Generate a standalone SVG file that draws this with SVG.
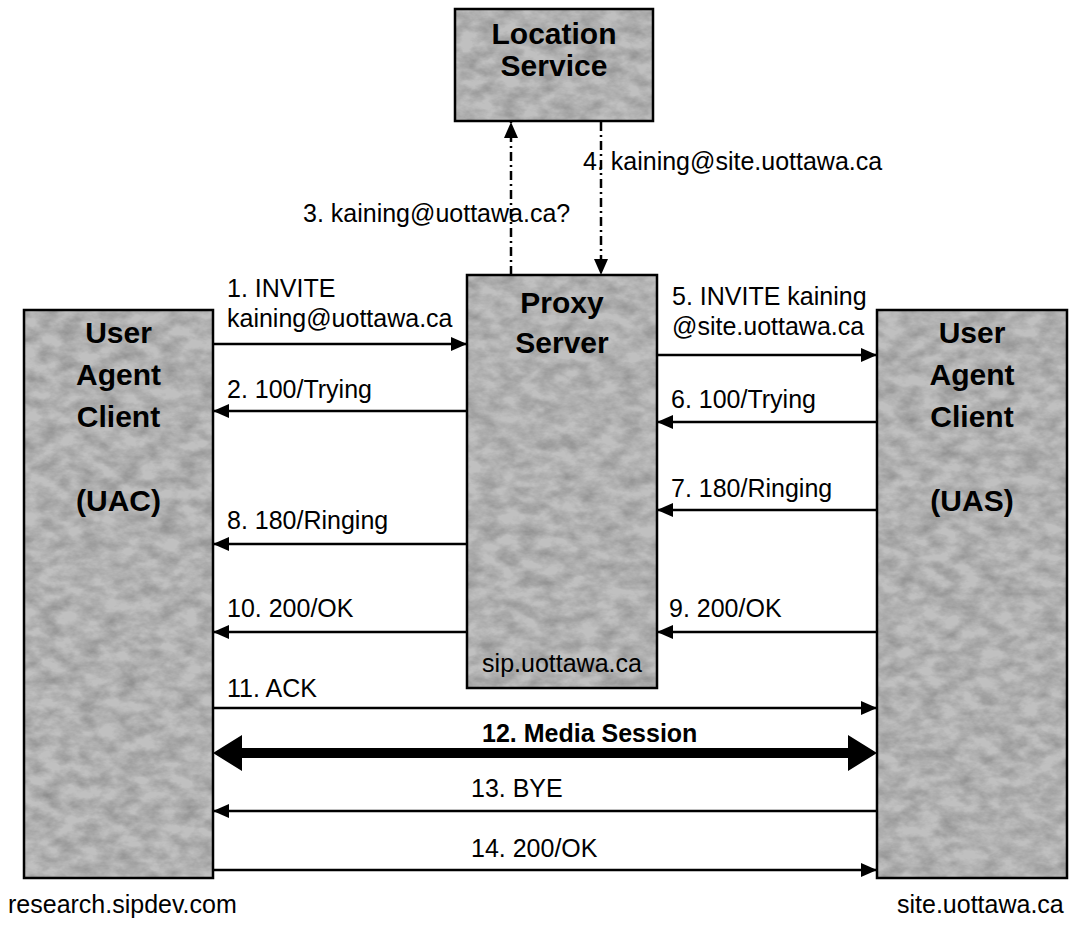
<svg xmlns="http://www.w3.org/2000/svg" width="1070" height="926" viewBox="0 0 1070 926">
  <style>
    .box { fill: #c0c0c0; stroke: none; }
    .grain { fill: #000; filter: url(#grain); }
    .frame { fill: none; stroke: #000; stroke-width: 2.5; }
    .title { font-family: "Liberation Sans", Arial, sans-serif; font-weight: bold; font-size: 30px; fill: #000; text-anchor: middle; }
    .lbl { font-family: "Liberation Sans", Arial, sans-serif; font-size: 25px; fill: #000; }
    .msg { stroke: #000; stroke-width: 2.5; fill: none; marker-end: url(#head); }
    .query { stroke: #000; stroke-width: 2.5; fill: none; stroke-dasharray: 9 4 2 4; marker-end: url(#head); }
  </style>
  <defs>
    <marker id="head" viewBox="0 0 16 14" refX="16" refY="7" markerWidth="16" markerHeight="14" markerUnits="userSpaceOnUse" orient="auto">
      <path d="M0,0 L16,7 L0,14 Z" fill="#000"/>
    </marker>
    <!-- faint mottled grey shading for the boxes -->
    <filter id="grain" x="0" y="0" width="1" height="1" filterUnits="objectBoundingBox">
      <feTurbulence type="fractalNoise" baseFrequency="0.05 0.08" numOctaves="4" seed="7" result="n"/>
      <feColorMatrix in="n" type="matrix" values="0 0 0 0 0  0 0 0 0 0  0 0 0 0 0  0.4 0 0 0 -0.12"/>
    </filter>
  </defs>

  <rect width="1070" height="926" fill="#fff"/>

  <!-- Location Service -->
  <g id="location-service">
    <rect class="box" x="455" y="9" width="198" height="112"/>
    <rect class="grain" x="455" y="9" width="198" height="112"/>
    <rect class="frame" x="455" y="9" width="198" height="112"/>
    <text class="title" x="554" y="44">Location</text>
    <text class="title" x="554" y="76">Service</text>
  </g>

  <!-- Proxy Server -->
  <g id="proxy-server">
    <rect class="box" x="467" y="275" width="190" height="413"/>
    <rect class="grain" x="467" y="275" width="190" height="413"/>
    <rect class="frame" x="467" y="275" width="190" height="413"/>
    <text class="title" x="562" y="313">Proxy</text>
    <text class="title" x="562" y="353">Server</text>
    <text class="lbl" x="562" y="672" text-anchor="middle">sip.uottawa.ca</text>
  </g>

  <!-- UAC -->
  <g id="uac">
    <rect class="box" x="24" y="310" width="189" height="568"/>
    <rect class="grain" x="24" y="310" width="189" height="568"/>
    <rect class="frame" x="24" y="310" width="189" height="568"/>
    <text class="title" x="118.5" y="343">User</text>
    <text class="title" x="118.5" y="385">Agent</text>
    <text class="title" x="118.5" y="427">Client</text>
    <text class="title" x="118.5" y="511">(UAC)</text>
  </g>

  <!-- UAS -->
  <g id="uas">
    <rect class="box" x="877" y="310" width="190" height="568"/>
    <rect class="grain" x="877" y="310" width="190" height="568"/>
    <rect class="frame" x="877" y="310" width="190" height="568"/>
    <text class="title" x="972" y="343">User</text>
    <text class="title" x="972" y="385">Agent</text>
    <text class="title" x="972" y="427">Client</text>
    <text class="title" x="972" y="511">(UAS)</text>
  </g>

  <!-- host names -->
  <text class="lbl" x="8" y="913">research.sipdev.com</text>
  <text class="lbl" x="897" y="913">site.uottawa.ca</text>

  <!-- Messages -->
  <g id="connectors">
    <line class="query" x1="511" y1="275" x2="511" y2="122"/>
    <line class="query" x1="601" y1="122" x2="601" y2="275"/>

    <line class="msg" x1="213" y1="344" x2="467" y2="344"/>
    <line class="msg" x1="467" y1="411" x2="213" y2="411"/>
    <line class="msg" x1="657" y1="355" x2="877" y2="355"/>
    <line class="msg" x1="877" y1="422" x2="657" y2="422"/>
    <line class="msg" x1="877" y1="510" x2="657" y2="510"/>
    <line class="msg" x1="467" y1="544" x2="213" y2="544"/>
    <line class="msg" x1="877" y1="632" x2="657" y2="632"/>
    <line class="msg" x1="467" y1="632" x2="213" y2="632"/>
    <line class="msg" x1="213" y1="708" x2="877" y2="708"/>

    <!-- media session, both ways -->
    <path d="M213,753 L242,735 L242,748 L848,748 L848,735 L877,753 L848,771 L848,758 L242,758 L242,771 Z" fill="#000"/>

    <line class="msg" x1="877" y1="811" x2="213" y2="811"/>
    <line class="msg" x1="213" y1="870" x2="877" y2="870"/>
  </g>

  <!-- Message labels -->
  <g id="labels">
    <text class="lbl" x="583" y="170">4. kaining@site.uottawa.ca</text>
    <text class="lbl" x="303" y="222">3. kaining@uottawa.ca?</text>
    <text class="lbl" x="227" y="297">1. INVITE</text>
    <text class="lbl" x="227" y="327">kaining@uottawa.ca</text>
    <text class="lbl" x="227" y="398">2. 100/Trying</text>
    <text class="lbl" x="672" y="305">5. INVITE kaining</text>
    <text class="lbl" x="672" y="335">@site.uottawa.ca</text>
    <text class="lbl" x="671" y="408">6. 100/Trying</text>
    <text class="lbl" x="671" y="497">7. 180/Ringing</text>
    <text class="lbl" x="227" y="529">8. 180/Ringing</text>
    <text class="lbl" x="669" y="617">9. 200/OK</text>
    <text class="lbl" x="227" y="617">10. 200/OK</text>
    <text class="lbl" x="227" y="697">11. ACK</text>
    <text class="lbl" x="482" y="742" font-weight="bold">12. Media Session</text>
    <text class="lbl" x="471" y="797">13. BYE</text>
    <text class="lbl" x="471" y="857">14. 200/OK</text>
  </g>
</svg>
